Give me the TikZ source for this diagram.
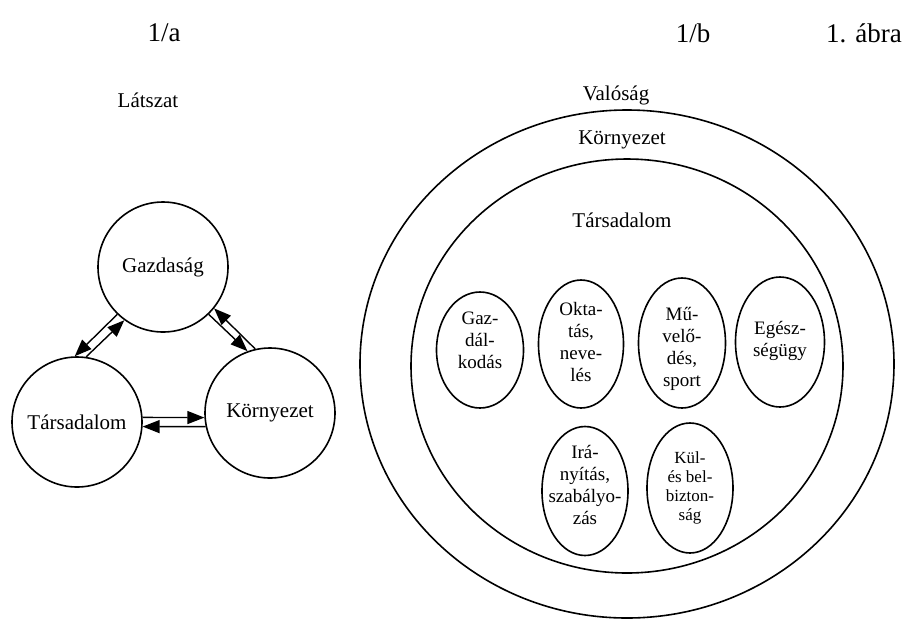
\documentclass[tikz,border=0pt]{standalone}
\usepackage{fontspec}
\setmainfont{Liberation Serif}
\usetikzlibrary{shapes.geometric,arrows.meta}

\begin{document}
\begin{tikzpicture}[x=0.5pt,y=-0.5pt,line width=0.8pt,
  kor/.style={circle,draw,minimum size=65pt,inner sep=0pt,font=\fontsize{10.5}{12}\selectfont},
  tojas/.style={ellipse,draw,inner sep=0pt},
  nyil/.style={-{Triangle[length=8.5pt,width=6.5pt]},line width=0.7pt},
  felirat/.style={font=\fontsize{10.5}{12}\selectfont},
  cim/.style={font=\fontsize{13.5}{15}\selectfont},
  belso/.style={align=center,font=\fontsize{9.5}{11}\selectfont}]
\useasboundingbox (0,0) rectangle (912,618);
% fejlec
\node[cim] (cima) at (164,33) {1/a};
\node[cim] (cimb) at (693,33) {1/b};
\node[cim] (abra) at (864,33) {1. ábra};
% 1/a
\node[felirat] (latszat) at (148,100) {Látszat};
\node[kor] (gazdasag) at (163,267) {Gazdaság};
\node[kor] (tarsadalom) at (77,422) {Társadalom};
\node[kor] (kornyezet) at (270,413) {Környezet};
\draw[nyil] (gazdasag.226) -- (tarsadalom.92);
\draw[nyil] (tarsadalom.82) -- (gazdasag.234);
\draw[nyil] (gazdasag.314) -- (kornyezet.110);
\draw[nyil] (kornyezet.103) -- (gazdasag.321);
\draw[nyil] (tarsadalom.4) -- (kornyezet.184);
\draw[nyil] (kornyezet.192) -- (tarsadalom.-4);
% 1/b
\node[tojas,minimum width=267pt,minimum height=254pt] (valosag) at (627,364) {};
\node[tojas,minimum width=216pt,minimum height=207pt] (kornyezetb) at (627,366) {};
\node[felirat] (valosagt) at (616,95) {Valóság};
\node[felirat] (kornyezett) at (622,140) {Környezet};
\node[felirat] (tarsadalomt) at (622,220) {Társadalom};
\node[tojas,minimum width=43.5pt,minimum height=58pt] (gazd) at (480,350) {};
\node[tojas,minimum width=42.5pt,minimum height=64pt] (okt) at (581,344) {};
\node[tojas,minimum width=43.5pt,minimum height=65pt] (muv) at (682,343) {};
\node[tojas,minimum width=44.5pt,minimum height=65pt] (eg) at (780,342) {};
\node[tojas,minimum width=43pt,minimum height=64.5pt] (iran) at (585,491) {};
\node[tojas,minimum width=43pt,minimum height=65pt] (kul) at (690,488) {};
\node[belso] (gazdt) at (480,340) {Gaz-\\dál-\\kodás};
\node[belso] (oktt) at (581,342) {Okta-\\tás,\\neve-\\lés};
\node[belso] (muvt) at (682,349) {Mű-\\velő-\\dés,\\sport};
\node[belso] (egt) at (780,341) {Egész-\\ségügy};
\node[belso] (irant) at (585,485) {Irá-\\nyítás,\\szabályo-\\zás};
\node[belso,font=\fontsize{8.5}{9.5}\selectfont] (kult) at (690,488) {Kül-\\és bel-\\bizton-\\ság};
\end{tikzpicture}
\end{document}
